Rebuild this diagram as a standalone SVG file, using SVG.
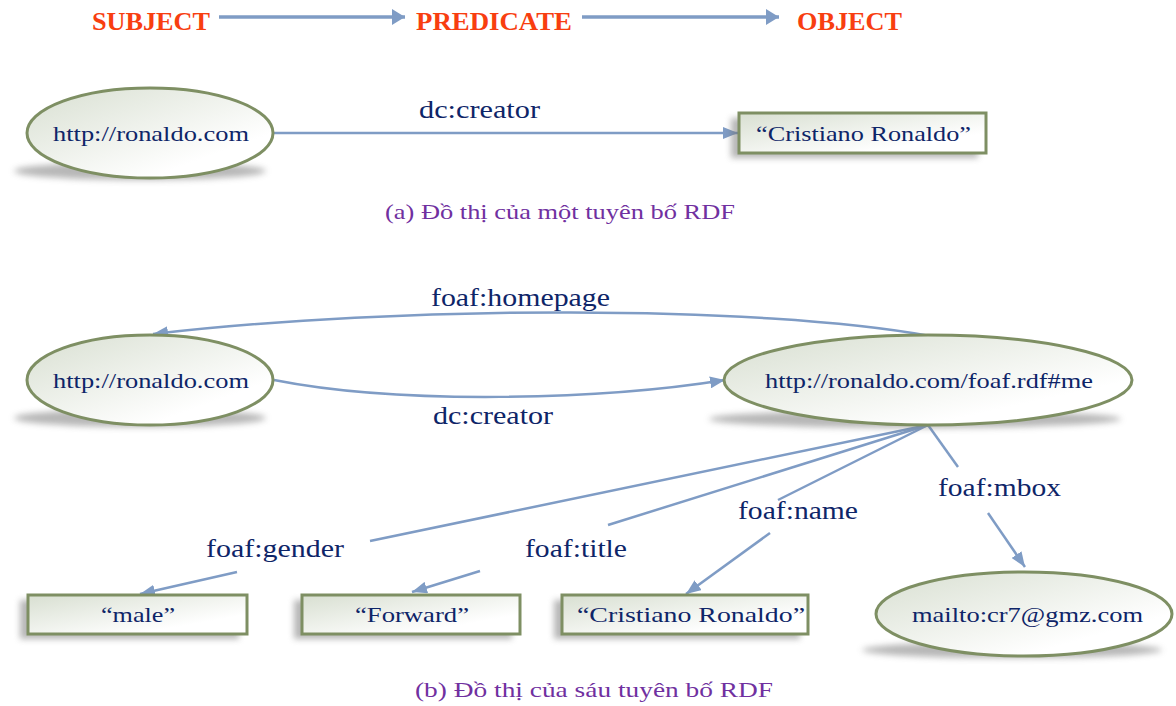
<svg xmlns="http://www.w3.org/2000/svg" width="1176" height="706" viewBox="0 0 1176 706">
  <style>
    .hdr { font-family: "Liberation Serif", "Times New Roman", serif; font-weight: bold; font-size: 25px; fill: #F83E10; }
    .txt { font-family: "Liberation Serif", "Times New Roman", serif; font-size: 22px; fill: #0E2568; }
    .lbl { font-family: "Liberation Serif", "Times New Roman", serif; font-size: 25px; fill: #0E2568; }
    .cap { font-family: "Liberation Serif", "Times New Roman", "Noto Sans", serif; font-size: 21px; fill: #7030A0; }
    .node { fill: url(#nodeFill); stroke: #7E8F63; stroke-width: 3; }
    .shadow { fill: #6f6f6f; opacity: 0.5; filter: url(#soft); }
    .edge { fill: none; stroke: #7F9CC5; stroke-width: 2.5; }
    .hedge { fill: none; stroke: #7F9CC5; stroke-width: 3.5; }
  </style>
  <defs>
    <linearGradient id="nodeFill" x1="0" y1="0" x2="1" y2="1">
      <stop offset="0" stop-color="#D8DFD1"/>
      <stop offset="0.75" stop-color="#FFFFFF"/>
    </linearGradient>
    <filter id="soft" x="-20%" y="-100%" width="140%" height="300%">
      <feGaussianBlur stdDeviation="3"/>
    </filter>
    <marker id="arr" markerUnits="userSpaceOnUse" markerWidth="16" markerHeight="12" refX="15" refY="6" orient="auto">
      <path d="M0,0 L15,6 L0,12 Z" fill="#7F9CC5"/>
    </marker>
    <marker id="harr" markerUnits="userSpaceOnUse" markerWidth="14" markerHeight="16" refX="13" refY="8" orient="auto">
      <path d="M0,0 L13,8 L0,16 Z" fill="#7F9CC5"/>
    </marker>
  </defs>

  <!-- header: triple pattern -->
  <g id="header">
    <text class="hdr" x="92" y="30" textLength="118" lengthAdjust="spacingAndGlyphs">SUBJECT</text>
    <text class="hdr" x="416" y="30" textLength="156" lengthAdjust="spacingAndGlyphs">PREDICATE</text>
    <text class="hdr" x="797" y="30" textLength="105" lengthAdjust="spacingAndGlyphs">OBJECT</text>
    <line class="hedge" x1="219" y1="17" x2="405" y2="17" marker-end="url(#harr)"/>
    <line class="hedge" x1="582" y1="17" x2="779" y2="17" marker-end="url(#harr)"/>
  </g>

  <!-- connectors -->
  <g id="connectors">
    <!-- (a) -->
    <line class="edge" x1="274" y1="133" x2="738" y2="133" marker-end="url(#arr)"/>
    <!-- (b) -->
    <path class="edge" d="M930,336 C760,305 400,305 153,334" marker-end="url(#arr)"/>
    <path class="edge" d="M274,380 C400,405 600,400 725,380" marker-end="url(#arr)"/>
    <line class="edge" x1="928" y1="425" x2="370" y2="541"/>
    <line class="edge" x1="237" y1="572" x2="140" y2="594" marker-end="url(#arr)"/>
    <line class="edge" x1="928" y1="425" x2="608" y2="525"/>
    <line class="edge" x1="480" y1="571" x2="412" y2="592" marker-end="url(#arr)"/>
    <line class="edge" x1="928" y1="425" x2="778" y2="500"/>
    <line class="edge" x1="770" y1="533" x2="686" y2="594" marker-end="url(#arr)"/>
    <line class="edge" x1="928" y1="425" x2="958" y2="467"/>
    <line class="edge" x1="988" y1="513" x2="1025" y2="567" marker-end="url(#arr)"/>
  </g>

  <!-- connector labels -->
  <g id="labels">
    <text class="lbl" x="419" y="118" textLength="121" lengthAdjust="spacingAndGlyphs">dc:creator</text>
    <text class="lbl" x="431" y="306" textLength="179" lengthAdjust="spacingAndGlyphs">foaf:homepage</text>
    <text class="lbl" x="433" y="424" textLength="120" lengthAdjust="spacingAndGlyphs">dc:creator</text>
    <text class="lbl" x="206" y="557" textLength="138" lengthAdjust="spacingAndGlyphs">foaf:gender</text>
    <text class="lbl" x="525" y="557" textLength="102" lengthAdjust="spacingAndGlyphs">foaf:title</text>
    <text class="lbl" x="738" y="519" textLength="120" lengthAdjust="spacingAndGlyphs">foaf:name</text>
    <text class="lbl" x="938" y="496" textLength="123" lengthAdjust="spacingAndGlyphs">foaf:mbox</text>
  </g>

  <!-- (a) one statement -->
  <g id="a-subject">
    <ellipse class="shadow" cx="140" cy="171" rx="126" ry="9"/>
    <ellipse class="node" cx="150" cy="133" rx="123" ry="45"/>
    <text class="txt" x="53" y="141" textLength="196" lengthAdjust="spacingAndGlyphs">http://ronaldo.com</text>
  </g>
  <g id="a-object">
    <rect class="shadow" x="731" y="118" width="247" height="40"/>
    <rect class="node" x="739" y="113" width="247" height="40"/>
    <text class="txt" x="756" y="141" textLength="215" lengthAdjust="spacingAndGlyphs">“Cristiano Ronaldo”</text>
  </g>
  <text class="cap" x="385" y="219" textLength="350" lengthAdjust="spacingAndGlyphs">(a) Đồ thị của một tuyên bố RDF</text>

  <!-- (b) six statements -->
  <g id="b-site">
    <ellipse class="shadow" cx="140" cy="418" rx="126" ry="9"/>
    <ellipse class="node" cx="150" cy="380" rx="123" ry="45"/>
    <text class="txt" x="53" y="388" textLength="196" lengthAdjust="spacingAndGlyphs">http://ronaldo.com</text>
  </g>
  <g id="b-me">
    <ellipse class="shadow" cx="915" cy="419" rx="206" ry="9"/>
    <ellipse class="node" cx="928" cy="380" rx="204" ry="45"/>
    <text class="txt" x="765" y="388" textLength="328" lengthAdjust="spacingAndGlyphs">http://ronaldo.com/foaf.rdf#me</text>
  </g>
  <g id="b-gender">
    <rect class="shadow" x="20" y="600" width="219" height="39"/>
    <rect class="node" x="28" y="595" width="219" height="39"/>
    <text class="txt" x="101" y="622" textLength="74" lengthAdjust="spacingAndGlyphs">“male”</text>
  </g>
  <g id="b-title">
    <rect class="shadow" x="294" y="600" width="218" height="39"/>
    <rect class="node" x="302" y="595" width="218" height="39"/>
    <text class="txt" x="355" y="622" textLength="114" lengthAdjust="spacingAndGlyphs">“Forward”</text>
  </g>
  <g id="b-name">
    <rect class="shadow" x="554" y="600" width="246" height="39"/>
    <rect class="node" x="562" y="595" width="246" height="39"/>
    <text class="txt" x="577" y="622" textLength="228" lengthAdjust="spacingAndGlyphs">“Cristiano Ronaldo”</text>
  </g>
  <g id="b-mbox">
    <ellipse class="shadow" cx="1012" cy="650" rx="150" ry="8"/>
    <ellipse class="node" cx="1024" cy="614" rx="148" ry="42"/>
    <text class="txt" x="912" y="622" textLength="231" lengthAdjust="spacingAndGlyphs">mailto:cr7@gmz.com</text>
  </g>
  <text class="cap" x="415" y="697" textLength="358" lengthAdjust="spacingAndGlyphs">(b) Đồ thị của sáu tuyên bố RDF</text>
</svg>
